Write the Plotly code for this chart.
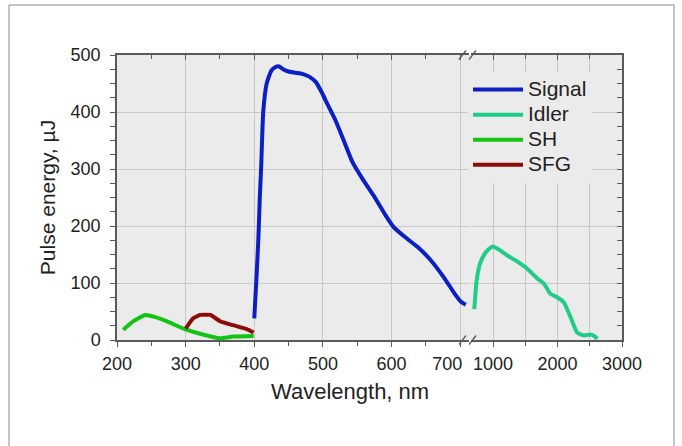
import plotly.graph_objects as go

# ---- data ----
signal_x = [400, 403.5, 406, 408, 410, 413, 418, 425, 431, 436, 442, 450, 460, 470, 480, 490, 498, 506, 518, 530,
            543, 559, 575, 591, 603, 619, 638, 657, 676, 692, 701, 708]
signal_y = [38, 117, 180, 250, 304, 400, 450, 473, 479, 480, 475, 471, 469, 467, 462, 452, 435, 415, 386, 351,
            312, 280, 251, 219, 198, 181, 163, 140, 110, 81, 67, 62]

idler_x = [710, 730, 747, 798, 876, 940, 1000, 1100, 1212, 1384, 1522, 1685, 1788, 1891, 1995, 2098, 2202, 2305,
           2408, 2480, 2537, 2580, 2615]
idler_y = [54, 85, 105, 134, 152, 160, 164, 158, 149, 137, 126, 108, 99, 81, 75, 66, 40, 13, 8, 9, 9, 6, 2]

sh_x = [209, 224, 241, 256, 272, 299, 321, 350, 369, 399]
sh_y = [18, 33, 44, 40, 33, 19, 11, 3, 6, 7]

sfg_x = [300, 311, 321, 336, 350, 369, 389, 399]
sfg_y = [20, 38, 44, 44, 33, 26, 19, 13]

series_names = ["Signal", "Idler", "SH", "SFG"]
left_ticks = [200, 300, 400, 500, 600, 700]
left_ticktext = ["200", "300", "400", "500", "600", ""]
edge_tick = [700]
edge_ticktext = ["700"]
right_ticks = [1000, 2000, 3000]
right_minor = [1500, 2500]
y_ticks = [0, 100, 200, 300, 400, 500]

# ---- style ----
FONT = "Liberation Sans, Arial, sans-serif"
BG = "#ebebeb"
GRID = "#c9c9c9"
AXC = "#5a5a5a"
C_SIGNAL = "#0b1fc4"
C_IDLER = "#1fcd86"
C_SH = "#14c414"
C_SFG = "#8e0b0b"

W, H = 682, 446
ML, MR, MT, MB = 117, 60, 55, 106
PW = W - ML - MR
PH = H - MT - MB

def px2x(px):
    return (px - ML) / PW

def py2y(py):
    return (H - MB - py) / PH

left_end = px2x(468.5)
right_start = px2x(471)
LEFT_RANGE = [200, 712]
RIGHT_RANGE = [659, 3000]
YR = [0, 500]

def leg(name):
    return '<span style="font-size:21px">' + name + '</span>'

fig = go.Figure()
lw = 4
fig.add_trace(go.Scatter(x=signal_x, y=signal_y, name=leg(series_names[0]), mode="lines",
                         line=dict(color=C_SIGNAL, width=lw, shape="spline", smoothing=0.5),
                         xaxis="x", yaxis="y"))
fig.add_trace(go.Scatter(x=idler_x, y=idler_y, name=leg(series_names[1]), mode="lines",
                         line=dict(color=C_IDLER, width=lw, shape="spline", smoothing=0.5),
                         xaxis="x2", yaxis="y2"))
fig.add_trace(go.Scatter(x=sh_x, y=sh_y, name=leg(series_names[2]), mode="lines",
                         line=dict(color=C_SH, width=lw, shape="spline", smoothing=0.4),
                         xaxis="x", yaxis="y"))
fig.add_trace(go.Scatter(x=sfg_x, y=sfg_y, name=leg(series_names[3]), mode="lines",
                         line=dict(color=C_SFG, width=lw, shape="spline", smoothing=0.4),
                         xaxis="x", yaxis="y"))
# invisible helpers so the mirror / label axes are drawn
for xa, ya in [("x3", "y"), ("x4", "y2"), ("x2", "y3"), ("x5", "y")]:
    fig.add_trace(go.Scatter(x=[None], y=[None], xaxis=xa, yaxis=ya, showlegend=False,
                             hoverinfo="skip", mode="lines"))

tickfont = dict(family=FONT, size=18, color="#222")

common_x = dict(showline=True, linecolor=AXC, linewidth=1.5, zeroline=False,
                gridcolor=GRID, gridwidth=1, tickfont=tickfont, tickcolor=AXC)

fig.update_layout(
    width=W, height=H,
    margin=dict(l=ML, r=MR, t=MT, b=MB),
    paper_bgcolor="white",
    plot_bgcolor="rgba(0,0,0,0)",
    font=dict(family=FONT, color="#222"),
    xaxis=dict(domain=[0, left_end], range=LEFT_RANGE, anchor="y", tickmode="array",
               tickvals=left_ticks, ticktext=left_ticktext, ticks="outside", ticklen=5, showgrid=True,
               ticklabelstandoff=2,
               minor=dict(ticks="outside", ticklen=4, dtick=50, tick0=0, showgrid=False, tickcolor=AXC),
               **common_x),
    xaxis5=dict(overlaying="x", side="bottom", anchor="y", range=LEFT_RANGE, tickmode="array",
                tickvals=edge_tick, ticktext=edge_ticktext, ticks="outside", ticklen=5,
                tickcolor="rgba(0,0,0,0)", ticklabelstandoff=2, ticklabelshift=-13,
                showgrid=False, showline=False, zeroline=False, tickfont=tickfont),
    xaxis2=dict(domain=[right_start, 1], range=RIGHT_RANGE, anchor="y2", tickmode="array",
                tickvals=right_ticks, ticks="outside", ticklen=5, showgrid=True,
                ticklabelstandoff=2,
                minor=dict(ticks="outside", ticklen=4, tickvals=right_minor, showgrid=True,
                           gridcolor=GRID, gridwidth=1, tickcolor=AXC),
                **common_x),
    xaxis3=dict(overlaying="x", side="top", anchor="y", range=LEFT_RANGE, showticklabels=False,
                tickmode="array", tickvals=left_ticks, ticks="inside", ticklen=5, showgrid=False,
                minor=dict(ticks="inside", ticklen=4, dtick=50, tick0=0, showgrid=False, tickcolor=AXC),
                showline=True, linecolor=AXC, linewidth=1.5, zeroline=False, tickcolor=AXC),
    xaxis4=dict(overlaying="x2", side="top", anchor="y2", range=RIGHT_RANGE, showticklabels=False,
                tickmode="array", tickvals=right_ticks, ticks="inside", ticklen=5, showgrid=False,
                minor=dict(ticks="inside", ticklen=4, tickvals=right_minor, showgrid=False, tickcolor=AXC),
                showline=True, linecolor=AXC, linewidth=1.5, zeroline=False, tickcolor=AXC),
    yaxis=dict(domain=[0, 1], range=YR, anchor="x", tickmode="array", tickvals=y_ticks,
               ticks="outside", ticklen=5, tickcolor=AXC, ticklabelstandoff=6,
               minor=dict(ticks="outside", ticklen=5, dtick=25, tick0=0, showgrid=False, tickcolor=AXC),
               showline=True, linecolor=AXC, linewidth=1.5, zeroline=False,
               gridcolor=GRID, gridwidth=1, showgrid=True, tickfont=tickfont,
               title=dict(text="Pulse energy, µJ", font=dict(family=FONT, size=21, color="#222"),
                          standoff=9)),
    yaxis2=dict(domain=[0, 1], range=YR, anchor="x2", matches="y", showticklabels=False, ticks="",
                tickmode="array", tickvals=y_ticks, showline=False, zeroline=False,
                gridcolor=GRID, gridwidth=1, showgrid=True),
    yaxis3=dict(overlaying="y2", side="right", anchor="x2", range=YR, showticklabels=False,
                tickmode="array", tickvals=y_ticks, ticks="inside", ticklen=5, tickcolor=AXC,
                minor=dict(ticks="inside", ticklen=5, dtick=25, tick0=0, showgrid=False, tickcolor=AXC),
                showline=True, linecolor=AXC, linewidth=1.5, zeroline=False, showgrid=False),
    legend=dict(x=px2x(468), y=py2y(72), xanchor="left", yanchor="top",
                bgcolor=BG, borderwidth=0, font=dict(family=FONT, size=17, color="#222"),
                itemwidth=50, tracegroupgap=0),
    showlegend=True,
)

shapes = [
    # grey plot background spanning both segments
    dict(type="rect", xref="paper", yref="paper", x0=0, x1=1, y0=0, y1=1,
         fillcolor=BG, line=dict(width=0), layer="below"),
    # outer frame of the picture
    dict(type="rect", xref="paper", yref="paper", x0=px2x(9), x1=px2x(674), y0=py2y(5), y1=py2y(452),
         fillcolor="rgba(0,0,0,0)", line=dict(color="#8a8a8a", width=1), layer="above"),
]
# axis-break marks
for yb in (340, 55):
    for x0 in (459, 469):
        shapes.append(dict(type="line", xref="paper", yref="paper",
                           x0=px2x(x0), y0=py2y(yb + 4.5), x1=px2x(x0 + 7), y1=py2y(yb - 4.5),
                           line=dict(color=AXC, width=1.3)))
fig.update_layout(shapes=shapes)

fig.add_annotation(text="Wavelength, nm", xref="paper", yref="paper",
                   x=px2x(350), y=py2y(391), xanchor="center", yanchor="middle",
                   showarrow=False, font=dict(family=FONT, size=22, color="#222"))

fig.write_html("out.html")
